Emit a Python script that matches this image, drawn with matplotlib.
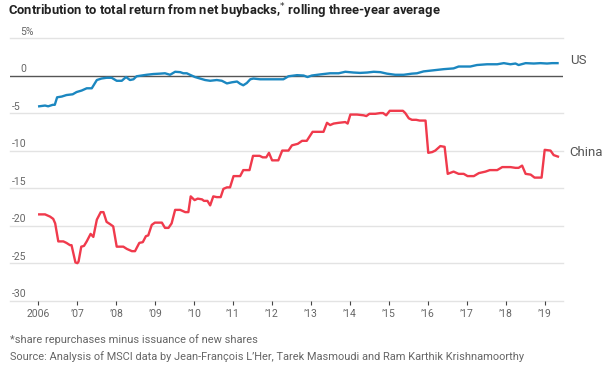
import matplotlib
matplotlib.use("Agg")
import matplotlib.pyplot as plt
import matplotlib.transforms as mtransforms

# rolling three-year average, % contribution
china_t = [2006.02, 2006.17, 2006.30, 2006.38, 2006.43, 2006.51, 2006.64, 2006.72, 2006.81, 2006.85,
           2006.95, 2007.00, 2007.03, 2007.10, 2007.17, 2007.24, 2007.34, 2007.41, 2007.50, 2007.60,
           2007.67, 2007.75, 2007.84, 2007.92, 2008.01, 2008.18, 2008.27, 2008.40, 2008.48, 2008.59,
           2008.68, 2008.76, 2008.82, 2008.91, 2008.99, 2009.17, 2009.25, 2009.34, 2009.42, 2009.51,
           2009.64, 2009.77, 2009.85, 2009.91, 2010.01, 2010.09, 2010.20, 2010.25, 2010.34, 2010.41,
           2010.49, 2010.58, 2010.68, 2010.75, 2010.84, 2010.92, 2011.01, 2011.11, 2011.18, 2011.26,
           2011.42, 2011.51, 2011.68, 2011.76, 2011.85, 2011.92, 2012.00, 2012.16, 2012.26, 2012.42,
           2012.51, 2012.66, 2012.77, 2012.89, 2013.04, 2013.22, 2013.32, 2013.41, 2013.49, 2013.58,
           2013.71, 2013.88, 2013.94, 2014.01, 2014.18, 2014.35, 2014.42, 2014.50, 2014.65, 2014.78,
           2014.85, 2014.93, 2015.02, 2015.21, 2015.36, 2015.42, 2015.51, 2015.59, 2015.70, 2015.79,
           2015.94, 2016.01, 2016.11, 2016.19, 2016.32, 2016.43, 2016.51, 2016.66, 2016.79, 2016.92,
           2017.02, 2017.18, 2017.31, 2017.48, 2017.59, 2017.78, 2017.91, 2018.12, 2018.25, 2018.33,
           2018.42, 2018.51, 2018.64, 2018.74, 2018.92, 2019.00, 2019.15, 2019.23, 2019.34]
china = [-18.5, -18.5, -18.8, -19.1, -19.7, -22.1, -22.1, -22.3, -22.6, -22.6,
         -24.9, -25.0, -24.8, -22.8, -22.7, -22.1, -21.1, -21.5, -19.2, -18.2,
         -18.2, -19.5, -19.8, -20.1, -22.8, -22.8, -23.1, -23.4, -23.4, -22.3,
         -22.2, -21.4, -21.3, -19.9, -19.6, -19.6, -20.3, -20.3, -19.7, -17.9,
         -17.9, -18.2, -18.2, -16.1, -16.6, -16.4, -16.5, -16.7, -16.7, -17.3,
         -16.1, -16.2, -16.2, -15.1, -14.9, -14.9, -13.4, -13.4, -13.4, -12.6,
         -12.6, -10.7, -10.7, -10.9, -10.9, -10.3, -11.3, -11.3, -10.0, -10.0,
         -9.3, -9.1, -8.7, -8.7, -7.5, -7.5, -7.5, -6.3, -6.6, -6.4,
         -6.3, -6.2, -6.4, -5.2, -5.2, -5.3, -5.4, -5.1, -5.1, -5.0,
         -5.0, -5.3, -4.7, -4.7, -4.7, -5.0, -5.7, -5.9, -5.9, -6.0,
         -6.0, -10.3, -10.2, -10.0, -9.4, -9.5, -13.1, -12.8, -13.1, -13.1,
         -13.4, -13.4, -13.0, -12.8, -12.6, -12.6, -12.2, -12.2, -12.3, -12.3,
         -12.0, -13.1, -13.2, -13.6, -13.6, -9.9, -10.0, -10.6, -10.8]

us_t = [2006.02, 2006.17, 2006.25, 2006.37, 2006.42, 2006.48, 2006.60, 2006.72, 2006.88, 2006.98,
        2007.11, 2007.24, 2007.37, 2007.50, 2007.62, 2007.75, 2007.88, 2008.01, 2008.14, 2008.25,
        2008.35, 2008.44, 2008.52, 2008.65, 2008.78, 2008.95, 2009.12, 2009.25, 2009.38, 2009.51,
        2009.64, 2009.72, 2009.81, 2009.89, 2010.02, 2010.15, 2010.28, 2010.41, 2010.58, 2010.71,
        2010.84, 2010.97, 2011.10, 2011.18, 2011.26, 2011.35, 2011.44, 2011.52, 2011.69, 2011.95,
        2012.29, 2012.42, 2012.64, 2012.81, 2012.91, 2013.02, 2013.24, 2013.49, 2013.71, 2013.88,
        2014.09, 2014.26, 2014.44, 2014.61, 2014.78, 2014.95, 2015.16, 2015.38, 2015.59, 2015.72,
        2015.89, 2016.15, 2016.41, 2016.66, 2016.79, 2017.09, 2017.26, 2017.52, 2017.78, 2017.95,
        2018.12, 2018.25, 2018.33, 2018.51, 2018.72, 2018.89, 2019.06, 2019.19, 2019.33]
us = [-4.1, -4.0, -4.1, -3.9, -3.9, -2.9, -2.8, -2.6, -2.5, -2.2,
      -2.0, -1.7, -1.7, -0.6, -0.4, -0.3, -0.3, -0.7, -0.7, -0.2,
      -0.6, -0.5, -0.1, 0.0, 0.1, 0.2, 0.25, 0.3, 0.1, 0.5,
      0.45, 0.3, 0.3, 0.1, -0.2, -0.4, -0.6, -0.7, -0.6, -0.7,
      -1.05, -0.9, -0.8, -1.1, -1.3, -1.0, -0.5, -0.4, -0.5, -0.5,
      -0.5, -0.1, 0.05, 0.0, -0.2, 0.0, 0.15, 0.3, 0.3, 0.5,
      0.4, 0.35, 0.4, 0.5, 0.45, 0.25, 0.1, 0.1, 0.25, 0.3,
      0.55, 0.7, 0.85, 0.95, 1.2, 1.2, 1.4, 1.5, 1.5, 1.65,
      1.5, 1.6, 1.4, 1.65, 1.6, 1.65, 1.6, 1.65, 1.65]

years = list(range(2006, 2020))
year_labels = ["2006"] + ["\u2019%02d" % (y % 100) for y in years[1:]]
y_ticks = [5, 0, -5, -10, -15, -20, -25, -30]
y_labels = ["5%", "0", "-5", "-10", "-15", "-20", "-25", "-30"]

plt.rcParams['font.family'] = ['Roboto', 'DejaVu Sans']

fig = plt.figure(figsize=(6.13, 3.71), dpi=100)
ax = fig.add_axes([10 / 613, 1 - 300.7 / 371, 553 / 613, (300.7 - 38) / 371])
ax.set_xlim(2005.27, 2019.47)
ax.set_ylim(-30, 5)

for v in y_ticks:
    if v == 0:
        ax.axhline(v, color="#555555", lw=1.0, zorder=3)
    else:
        ax.axhline(v, color="#e3e3e3", lw=1.0, zorder=1, clip_on=False)

ax.plot(us_t, us, color="#1b87c0", lw=1.7, zorder=4, solid_joinstyle="round")
ax.plot(china_t, china, color="#f03a4c", lw=1.7, zorder=4, solid_joinstyle="round")

lab_tr = mtransforms.blended_transform_factory(ax.transAxes, ax.transData)
ax.text(1.012, 2.0, "US", transform=lab_tr, fontsize=9.5, color="#555555", va="center", ha="left")
ax.text(1.012, -10.3, "China", transform=lab_tr, fontsize=9.5, color="#555555", va="center", ha="left")

# minus signs hang to the left of the digits
for v, lab in zip(y_ticks, y_labels):
    x0 = 0.004 if lab.startswith("-") else 0.018
    ax.text(x0, v + 0.45, lab, transform=lab_tr, fontsize=7.5, color="#666666",
            va="baseline", ha="left")

ax.set_xticks(years)
ax.set_xticklabels(year_labels)
ax.set_yticks([])
ax.tick_params(axis="x", length=3, width=0.8, color="#444444", labelsize=7.5,
               labelcolor="#666666", pad=3)
for s in ax.spines.values():
    s.set_visible(False)

fig.text(8 / 613, 1 - 11 / 371, "Contribution to total return from net buybacks,$^{*}$ rolling three-year average",
         fontsize=9.4, fontweight="bold", color="#222222", va="center", ha="left",
         family=['Liberation Sans Narrow', 'Roboto'])
fig.text(10 / 613, 1 - 340 / 371, "*share repurchases minus issuance of new shares",
         fontsize=7.9, color="#666666", va="center", ha="left")
fig.text(10 / 613, 1 - 357 / 371,
         "Source: Analysis of MSCI data by Jean-Fran\u00e7ois L\u2019Her, Tarek Masmoudi and Ram Karthik Krishnamoorthy",
         fontsize=7.9, color="#666666", va="center", ha="left")

fig.savefig("out.png", dpi=100)
